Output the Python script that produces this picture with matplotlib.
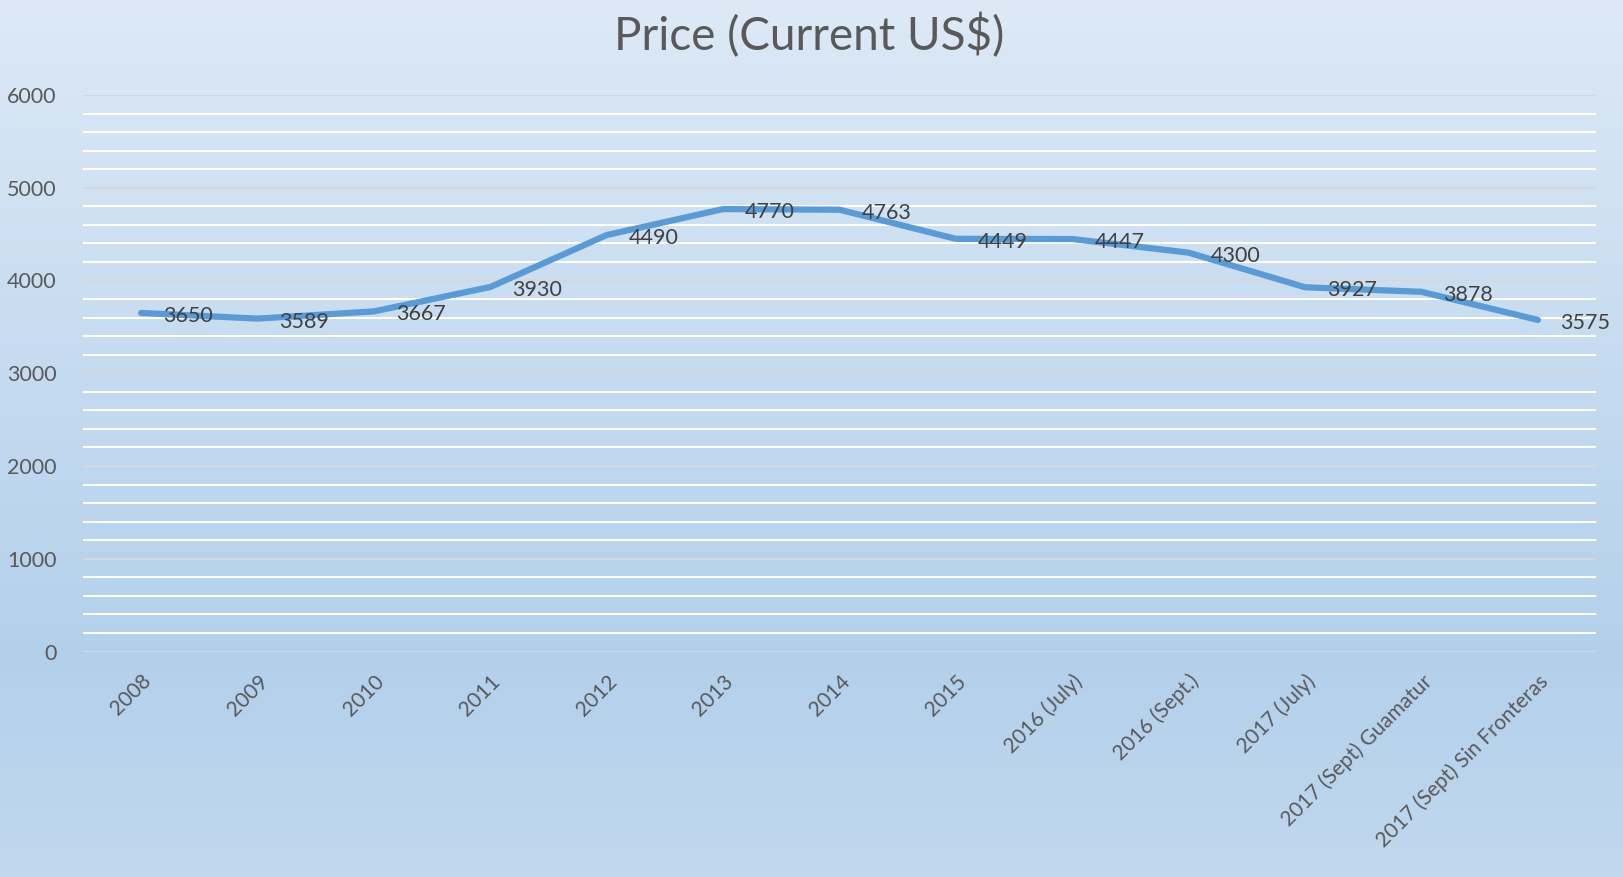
import numpy as np
import matplotlib.pyplot as plt
from matplotlib.colors import LinearSegmentedColormap

plt.rcParams['font.family'] = ['Lato', 'DejaVu Sans']

categories = ['2008', '2009', '2010', '2011', '2012', '2013', '2014', '2015',
              '2016 (July)', '2016 (Sept.)', '2017 (July)',
              '2017 (Sept) Guamatur', '2017 (Sept) Sin Fronteras']
prices = [3650, 3589, 3667, 3930, 4490, 4770, 4763, 4449, 4447, 4300, 3927, 3878, 3575]
yticks = [0, 1000, 2000, 3000, 4000, 5000, 6000]

fig = plt.figure(figsize=(16.23, 8.77), dpi=100)

# gradient background
bg = fig.add_axes([0, 0, 1, 1], zorder=-1)
cmap = LinearSegmentedColormap.from_list('bg', [(0.0, '#dde9f6'), (0.75, '#b3d0eb'), (1.0, '#c1d8ee')])
grad = np.linspace(0, 1, 256).reshape(-1, 1)
bg.imshow(grad, aspect='auto', cmap=cmap, extent=[0, 1, 1, 0])
bg.axis('off')

ax = fig.add_axes([0.0511, 0.2571, 0.9323, 0.6346])
ax.set_facecolor('none')
x = np.arange(len(categories))
ax.plot(x, prices, color='#5b9bd5', lw=4.5, solid_capstyle='round', zorder=3)
for xi, v in zip(x, prices):
    ax.annotate(str(v), (xi, v), xytext=(22, -3), textcoords='offset pixels',
                ha='left', va='center', fontsize=15.5, color='#404040', zorder=4)

ax.set_xlim(-0.5, len(categories) - 0.5)
ax.set_ylim(0, 6000)
ax.set_yticks(yticks)
ax.set_yticks(np.arange(0, 6001, 200), minor=True)
ax.grid(which='minor', axis='y', color='white', lw=1.5, zorder=1)
ax.grid(which='major', axis='y', color='#d4d8dc', lw=1.5, zorder=2)
ax.set_xticks(x)
ax.set_xticklabels(categories, rotation=45, ha='right', rotation_mode='anchor',
                   fontsize=15, color='#595959')
ax.tick_params(axis='y', labelsize=15.5, labelcolor='#595959', length=0, pad=19)
ax.tick_params(axis='y', which='minor', length=0)
ax.tick_params(axis='x', length=0, pad=14)
for s in ax.spines.values():
    s.set_visible(False)

fig.text(0.4985, 0.959, 'Price (Current US$)', ha='center', va='center',
         fontsize=33, color='#595959')

fig.savefig('out.png', dpi=100)
